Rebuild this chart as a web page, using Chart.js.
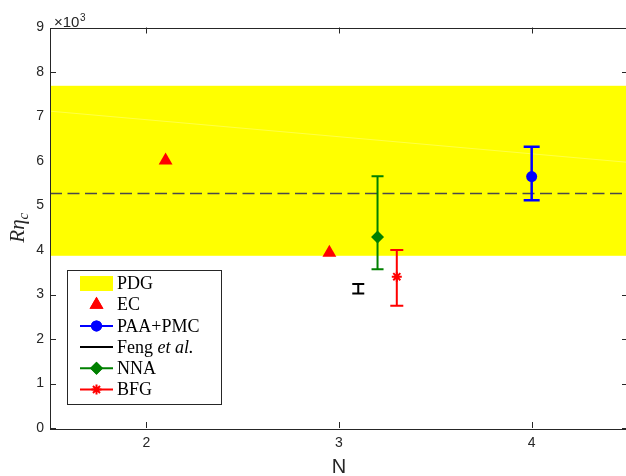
<!DOCTYPE html>
<html>
<head>
<meta charset="utf-8">
<script src="https://cdn.jsdelivr.net/npm/chart.js@4.4.1/dist/chart.umd.min.js"></script>
<style>
body { margin: 0; overflow: hidden; background: #fff; }
#wrap { width: 636px; height: 476px; position: relative; }
</style>
</head>
<body>
<div id="wrap"><canvas id="myChart"></canvas></div>
<script>
// axis ticks
const xTicks = [2, 3, 4]
const yTicks = [0, 1000, 2000, 3000, 4000, 5000, 6000, 7000, 8000, 9000]

// PDG value and its band
const pdgValue = 5270
const pdgBand = [3870, 7690]
const bandStreak = [7120, 5970]   // faint light streak across the band (left, right)

// EC
const ecX = [2.1, 2.95]
const ecY = [6010, 3940]

// PAA+PMC
const paaX = [4.0]
const paaY = [5650]
const paaUp = [670]
const paaDown = [530]

// Feng et al.
const fengX = [3.1]
const fengY = [3130]
const fengUp = [105]
const fengDown = [105]

// NNA
const nnaX = [3.2]
const nnaY = [4290]
const nnaUp = [1370]
const nnaDown = [720]

// BFG
const bfgX = [3.3]
const bfgY = [3400]
const bfgUp = [600]
const bfgDown = [650]

const AXIS_COLOR = '#262626'
const pts = (xs, ys) => xs.map((x, i) => ({ x: x, y: ys[i] }))

const datasets = [
    { label: 'EC', data: pts(ecX, ecY), pointStyle: 'triangle', pointRadius: 8, backgroundColor: '#ff0000', borderWidth: 0 },
    { label: 'PAA+PMC', data: pts(paaX, paaY), up: paaUp, down: paaDown, cap: 8, barWidth: 2.5,
      pointStyle: 'circle', pointRadius: 5.5, backgroundColor: '#0000ff', borderColor: '#0000ff', borderWidth: 0 },
    { label: 'Feng', data: pts(fengX, fengY), up: fengUp, down: fengDown, cap: 6, barWidth: 2,
      pointRadius: 0, borderColor: '#000000', backgroundColor: '#000000' },
    { label: 'NNA', data: pts(nnaX, nnaY), up: nnaUp, down: nnaDown, cap: 6, barWidth: 2,
      pointStyle: 'rectRot', pointRadius: 6.5, backgroundColor: '#008000', borderColor: '#008000', borderWidth: 0 },
    { label: 'BFG', data: pts(bfgX, bfgY), up: bfgUp, down: bfgDown, cap: 6.5, barWidth: 2,
      pointStyle: 'star', pointRadius: 5, backgroundColor: '#ff0000', borderColor: '#ff0000', borderWidth: 2 },
    { label: 'PDG', type: 'line', data: [{ x: 1.5, y: pdgValue }, { x: 4.5, y: pdgValue }],
      borderColor: '#4a4a4a', borderWidth: 1.6, borderDash: [12, 5.5], pointRadius: 0 },
    { label: 'streak', type: 'line', data: [{ x: 1.5, y: bandStreak[0] }, { x: 4.5, y: bandStreak[1] }],
      borderColor: 'rgba(255,255,255,0.28)', borderWidth: 1, pointRadius: 0 }
]

function drawTicks(chart) {
    const ctx = chart.ctx
    const a = chart.chartArea
    const xs = chart.scales.x, ys = chart.scales.y
    ctx.save()
    ctx.strokeStyle = AXIS_COLOR
    ctx.lineWidth = 1
    ctx.beginPath()
    xTicks.forEach(v => {
        const px = Math.round(xs.getPixelForValue(v)) + 0.5
        ctx.moveTo(px, a.bottom); ctx.lineTo(px, a.bottom - 6)
        ctx.moveTo(px, a.top); ctx.lineTo(px, a.top + 6)
    })
    yTicks.forEach(v => {
        const py = Math.round(ys.getPixelForValue(v)) + 0.5
        ctx.moveTo(a.left, py); ctx.lineTo(a.left + 6, py)
        ctx.moveTo(a.right, py); ctx.lineTo(a.right - 6, py)
    })
    ctx.stroke()
    ctx.restore()
}

const figurePlugin = {
    id: 'figure',
    beforeDatasetsDraw(chart) {
        const ctx = chart.ctx
        const a = chart.chartArea
        const ys = chart.scales.y
        drawTicks(chart)
        const top = ys.getPixelForValue(pdgBand[1])
        const bottom = ys.getPixelForValue(pdgBand[0])
        ctx.save()
        ctx.fillStyle = '#ffff00'
        ctx.fillRect(a.left, top, a.right - a.left, bottom - top)
        ctx.restore()
    },
    afterDatasetDraw(chart, args) {
        // error bars go right after the dashed PDG line, under the markers
        if (args.index !== 5) return
        const ctx = chart.ctx
        const xs = chart.scales.x, ys = chart.scales.y
        ctx.save()
        chart.data.datasets.forEach(ds => {
            if (!ds.up) return
            ctx.strokeStyle = ds.borderColor
            ctx.lineWidth = ds.barWidth
            ds.data.forEach((p, i) => {
                const px = xs.getPixelForValue(p.x)
                const yTop = ys.getPixelForValue(p.y + ds.up[i])
                const yBot = ys.getPixelForValue(p.y - ds.down[i])
                ctx.beginPath()
                ctx.moveTo(px, yTop); ctx.lineTo(px, yBot)
                ctx.moveTo(px - ds.cap, yTop); ctx.lineTo(px + ds.cap, yTop)
                ctx.moveTo(px - ds.cap, yBot); ctx.lineTo(px + ds.cap, yBot)
                ctx.stroke()
            })
        })
        ctx.restore()
    },
    afterDatasetsDraw(chart) {
        const ctx = chart.ctx
        const a = chart.chartArea
        ctx.save()
        ctx.strokeStyle = AXIS_COLOR
        ctx.lineWidth = 1
        ctx.strokeRect(Math.round(a.left) + 0.5, Math.round(a.top) + 0.5,
            Math.round(a.right - a.left), Math.round(a.bottom - a.top))
        ctx.restore()
    },
    afterDraw(chart) {
        const ctx = chart.ctx
        const a = chart.chartArea
        ctx.save()

        // x10^3
        ctx.fillStyle = AXIS_COLOR
        ctx.textBaseline = 'alphabetic'
        ctx.font = '15px "Liberation Sans", Arial, sans-serif'
        ctx.fillText('\u00d710', 54, 27)
        const w10 = ctx.measureText('\u00d710').width
        ctx.font = '10px "Liberation Sans", Arial, sans-serif'
        ctx.fillText('3', 54 + w10 + 0.5, 21)

        // x title
        ctx.font = '20px "Liberation Sans", Arial, sans-serif'
        ctx.textAlign = 'center'
        ctx.textBaseline = 'middle'
        ctx.fillText('N', (a.left + a.right) / 2, 467)

        // y title: R eta_c
        ctx.save()
        ctx.translate(17, (a.top + a.bottom) / 2)
        ctx.rotate(-Math.PI / 2)
        ctx.textAlign = 'left'
        ctx.textBaseline = 'alphabetic'
        const big = 'italic 21px "Liberation Serif", "Times New Roman", serif'
        const small = 'italic 15px "Liberation Serif", "Times New Roman", serif'
        ctx.font = big
        const wMain = ctx.measureText('R\u03b7').width
        ctx.font = small
        const wSub = ctx.measureText('c').width
        const x0 = -(wMain + wSub) / 2
        ctx.font = big
        ctx.fillText('R\u03b7', x0, 7)
        ctx.font = small
        ctx.fillText('c', x0 + wMain, 11)
        ctx.restore()

        // legend
        const bx = 67, by = 270, bw = 154, bh = 134
        ctx.fillStyle = '#ffffff'
        ctx.fillRect(bx, by, bw, bh)
        ctx.strokeStyle = AXIS_COLOR
        ctx.lineWidth = 1
        ctx.strokeRect(bx + 0.5, by + 0.5, bw, bh)

        const rows = [
            { kind: 'patch', text: 'PDG' },
            { kind: 'marker', ds: 0, text: 'EC' },
            { kind: 'both', ds: 1, text: 'PAA+PMC' },
            { kind: 'line', ds: 2, text: 'Feng', italic: 'et al.' },
            { kind: 'both', ds: 3, text: 'NNA' },
            { kind: 'both', ds: 4, text: 'BFG' }
        ]
        const lx0 = 80, lx1 = 113, tx = 117
        const serif = '18px "Liberation Serif", "Times New Roman", serif'
        const serifIt = 'italic 18px "Liberation Serif", "Times New Roman", serif'
        rows.forEach((r, i) => {
            const y = 283.5 + i * 21.2
            const ds = r.ds !== undefined ? chart.data.datasets[r.ds] : null
            if (r.kind === 'patch') {
                ctx.fillStyle = '#ffff00'
                ctx.fillRect(lx0, y - 7.5, lx1 - lx0, 15)
            }
            if (r.kind === 'line' || r.kind === 'both') {
                ctx.strokeStyle = ds.borderColor
                ctx.lineWidth = 2
                ctx.beginPath()
                ctx.moveTo(lx0, y); ctx.lineTo(lx1, y)
                ctx.stroke()
            }
            if (r.kind === 'marker' || r.kind === 'both') {
                ctx.fillStyle = ds.backgroundColor
                ctx.strokeStyle = ds.borderColor || ds.backgroundColor
                ctx.lineWidth = ds.borderWidth || 0
                Chart.helpers.drawPoint(ctx, {
                    pointStyle: ds.pointStyle, radius: ds.pointRadius,
                    rotation: 0, borderWidth: ds.borderWidth || 0
                }, (lx0 + lx1) / 2, y)
                if (ds.pointStyle !== 'star') ctx.fill()
            }
            ctx.fillStyle = '#000000'
            ctx.textAlign = 'left'
            ctx.textBaseline = 'middle'
            ctx.font = serif
            ctx.fillText(r.text, tx, y + 1)
            if (r.italic) {
                const w = ctx.measureText(r.text + ' ').width
                ctx.font = serifIt
                ctx.fillText(r.italic, tx + w, y + 1)
            }
        })
        ctx.restore()
    }
}

const tickFont = { family: '"Liberation Sans", Arial, sans-serif', size: 14 }

new Chart(document.getElementById('myChart'), {
    type: 'scatter',
    data: { datasets: datasets },
    options: {
        responsive: true,
        maintainAspectRatio: false,
        animation: false,
        events: [],
        layout: { padding: { top: 27.5, right: 6, left: 0, bottom: 0 } },
        plugins: { legend: { display: false }, tooltip: { enabled: false } },
        scales: {
            x: {
                type: 'linear', min: 1.5, max: 4.5,
                afterBuildTicks: s => { s.ticks = xTicks.map(v => ({ value: v })) },
                afterFit: s => { s.height = 48 },
                grid: { display: false, drawTicks: false },
                border: { display: false },
                ticks: { font: tickFont, color: AXIS_COLOR, padding: 7, maxRotation: 0 }
            },
            y: {
                type: 'linear', min: 0, max: 9000,
                afterBuildTicks: s => { s.ticks = yTicks.map(v => ({ value: v })) },
                afterFit: s => { s.width = 50 },
                grid: { display: false, drawTicks: false },
                border: { display: false },
                ticks: { font: tickFont, color: AXIS_COLOR, padding: 6, callback: v => v / 1000 }
            }
        }
    },
    plugins: [figurePlugin]
})
</script>
</body>
</html>
